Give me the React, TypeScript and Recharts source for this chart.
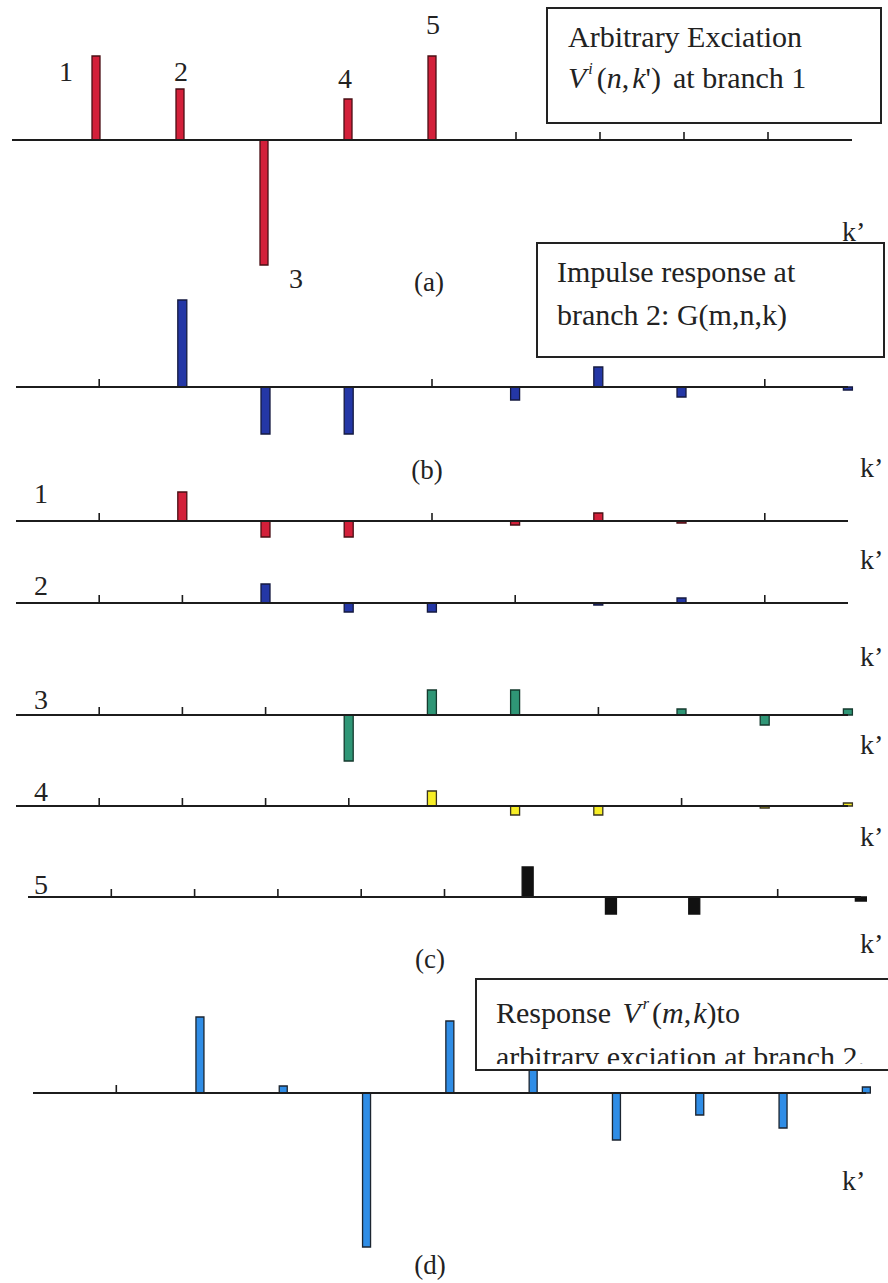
import { ComposedChart, Bar, XAxis, YAxis, ReferenceLine } from "recharts";

// k' positions along every strip
const kPos = [0, 1, 2, 3, 4, 5, 6, 7, 8, 9, 10];

// (a) arbitrary excitation at branch 1
const excitation = [null, 84, 51, -125, 41, 84, null, null, null, null, null];
// (b) impulse response at branch 2
const impulse = [null, null, 87, -47, -47, null, -13, 20, -10, null, -3];
// (c) shifted / scaled impulse responses, one per excitation pulse
const part1 = [null, null, 29, -16, -16, null, -4, 8, -2, null, null];
const part2 = [null, null, null, 19, -9, -9, null, -2, 5, null, null];
const part3 = [null, null, null, null, -46, 25, 25, null, 6, -10, 6];
const part4 = [null, null, null, null, null, 15, -9, -9, null, -2, 3];
const part5 = [null, null, null, null, null, null, 30, -17, -17, null, -4];
// (d) total response
const response = [null, null, 76, 7, -154, 72, 40, -47, -22, -35, 6];

// where a bare tick mark shows on the baseline
const ticksA = [6, 7, 8, 9];
const ticksB = [1, 5, 9];
const ticks1 = [1, 5, 9];
const ticks2 = [1, 2, 6, 9];
const ticks3 = [1, 2, 3, 7];
const ticks4 = [1, 2, 3, 4, 8];
const ticks5 = [1, 2, 3, 4, 5, 9];
const ticksD = [1];

const W = 888;
const FONT = "'Liberation Serif', 'Times New Roman', serif";

interface StripProps {
  values: (number | null)[];
  ticks: number[];
  zero: number;
  lo: number;
  hi: number;
  x0: number;
  x1: number;
  fill: string;
  stroke: string;
  barSize: number;
}

function Strip({ values, ticks, zero, lo, hi, x0, x1, fill, stroke, barSize }: StripProps) {
  const data = kPos.map((k, i) => ({ k, v: values[i] }));
  return (
    <div style={{ position: "absolute", left: 0, top: zero - hi }}>
      <ComposedChart width={W} height={hi - lo} data={data} margin={{ top: 0, right: W - x1, bottom: 0, left: x0 }}>
        <XAxis type="number" dataKey="k" domain={[0, 10]} ticks={kPos} hide />
        <YAxis type="number" domain={[lo, hi]} hide allowDataOverflow />
        <ReferenceLine y={0} stroke="#1c1c1c" strokeWidth={2} />
        {ticks.map((t) => (
          <ReferenceLine key={t} segment={[{ x: t, y: 0 }, { x: t, y: 8 }]} stroke="#1c1c1c" strokeWidth={1.6} />
        ))}
        <Bar dataKey="v" fill={fill} stroke={stroke} strokeWidth={1.3} barSize={barSize} isAnimationActive={false} />
      </ComposedChart>
    </div>
  );
}

function Labels() {
  const t = { fontFamily: FONT, fontSize: 28, fill: "#222" } as const;
  const p = { fontFamily: FONT, fontSize: 27, fill: "#222" } as const;
  return (
    <svg width={W} height={1283} style={{ position: "absolute", left: 0, top: 0, pointerEvents: "none" }}>
      <defs>
        <clipPath id="boxD">
          <rect x={476} y={979} width={420} height={85} />
        </clipPath>
      </defs>

      {/* (a) pulse numbers */}
      <text {...t} x={66} y={81} textAnchor="middle">1</text>
      <text {...t} x={181} y={81} textAnchor="middle">2</text>
      <text {...t} x={296} y={288} textAnchor="middle">3</text>
      <text {...t} x={345} y={88} textAnchor="middle">4</text>
      <text {...t} x={433} y={34} textAnchor="middle">5</text>
      <text {...p} x={429} y={291} textAnchor="middle">(a)</text>
      <text {...t} x={842} y={241}>k’</text>

      <rect x={547} y={8} width={334} height={115} fill="#fff" stroke="#222" strokeWidth={2} />
      <text x={568} y={47} fontFamily={FONT} fontSize={30} fill="#222">Arbitrary Exciation</text>
      <text x={568} y={88} fontFamily={FONT} fontSize={30} fill="#222">
        <tspan fontStyle="italic">V</tspan>
        <tspan fontStyle="italic" fontSize={16} dy={-14} dx={2}>i</tspan>
        <tspan dy={14} dx={4}>(</tspan>
        <tspan fontStyle="italic">n</tspan>
        <tspan>,</tspan>
        <tspan fontStyle="italic" dx={3}>k</tspan>
        <tspan>')</tspan>
        <tspan dx={12}>at branch 1</tspan>
      </text>

      {/* (b) */}
      <rect x={537} y={243} width={347} height={114} fill="#fff" stroke="#222" strokeWidth={2} />
      <text x={557} y={282} fontFamily={FONT} fontSize={30} fill="#222">Impulse response at</text>
      <text x={557} y={325} fontFamily={FONT} fontSize={30} fill="#222">branch 2: G(m,n,k)</text>
      <text {...p} x={427} y={479} textAnchor="middle">(b)</text>
      <text {...t} x={860} y={477}>k’</text>

      {/* (c) */}
      <text {...t} x={41} y={503} textAnchor="middle">1</text>
      <text {...t} x={41} y={595} textAnchor="middle">2</text>
      <text {...t} x={41} y={709} textAnchor="middle">3</text>
      <text {...t} x={41} y={801} textAnchor="middle">4</text>
      <text {...t} x={41} y={894} textAnchor="middle">5</text>
      <text {...t} x={860} y={569}>k’</text>
      <text {...t} x={860} y={666}>k’</text>
      <text {...t} x={860} y={754}>k’</text>
      <text {...t} x={860} y={846}>k’</text>
      <text {...t} x={860} y={953}>k’</text>
      <text {...p} x={430} y={968} textAnchor="middle">(c)</text>

      {/* (d) */}
      <rect x={476} y={979} width={430} height={91} fill="#fff" stroke="#222" strokeWidth={2} />
      <g clipPath="url(#boxD)">
        <text x={496} y={1023} fontFamily={FONT} fontSize={30} fill="#222">
          <tspan>Response </tspan>
          <tspan fontStyle="italic" dx={4}>V</tspan>
          <tspan fontStyle="italic" fontSize={16} dy={-14} dx={2}>r</tspan>
          <tspan dy={14} dx={3}>(</tspan>
          <tspan fontStyle="italic">m</tspan>
          <tspan>,</tspan>
          <tspan fontStyle="italic" dx={2}>k</tspan>
          <tspan>)to</tspan>
        </text>
        <text x={496} y={1067} fontFamily={FONT} fontSize={30} fill="#222">arbitrary exciation at branch 2.</text>
      </g>
      <text {...t} x={842} y={1190}>k’</text>
      <text {...p} x={430} y={1274} textAnchor="middle">(d)</text>
    </svg>
  );
}

export default function App() {
  return (
    <div style={{ position: "absolute", left: 0, top: 0, width: W, height: 1283, background: "#fff", overflow: "hidden" }}>
      <Strip values={excitation} ticks={ticksA} zero={140} lo={-135} hi={95} x0={12} x1={852} fill="#d3203a" stroke="#4a0f14" barSize={8} />
      <Strip values={impulse} ticks={ticksB} zero={387} lo={-55} hi={95} x0={16} x1={848} fill="#2437a6" stroke="#141a40" barSize={9} />
      <Strip values={part1} ticks={ticks1} zero={521} lo={-25} hi={35} x0={16} x1={848} fill="#d3203a" stroke="#4a0f14" barSize={9} />
      <Strip values={part2} ticks={ticks2} zero={603} lo={-15} hi={25} x0={16} x1={848} fill="#2437a6" stroke="#141a40" barSize={9} />
      <Strip values={part3} ticks={ticks3} zero={715} lo={-50} hi={30} x0={16} x1={848} fill="#2f9676" stroke="#153a2e" barSize={9} />
      <Strip values={part4} ticks={ticks4} zero={806} lo={-15} hi={20} x0={16} x1={848} fill="#f7ee26" stroke="#3a3520" barSize={9} />
      <Strip values={part5} ticks={ticks5} zero={897} lo={-20} hi={35} x0={28} x1={861} fill="#111111" stroke="#111111" barSize={11} />
      <Strip values={response} ticks={ticksD} zero={1093} lo={-160} hi={80} x0={33} x1={866} fill="#2f8de6" stroke="#1c2530" barSize={8} />
      <Labels />
    </div>
  );
}
